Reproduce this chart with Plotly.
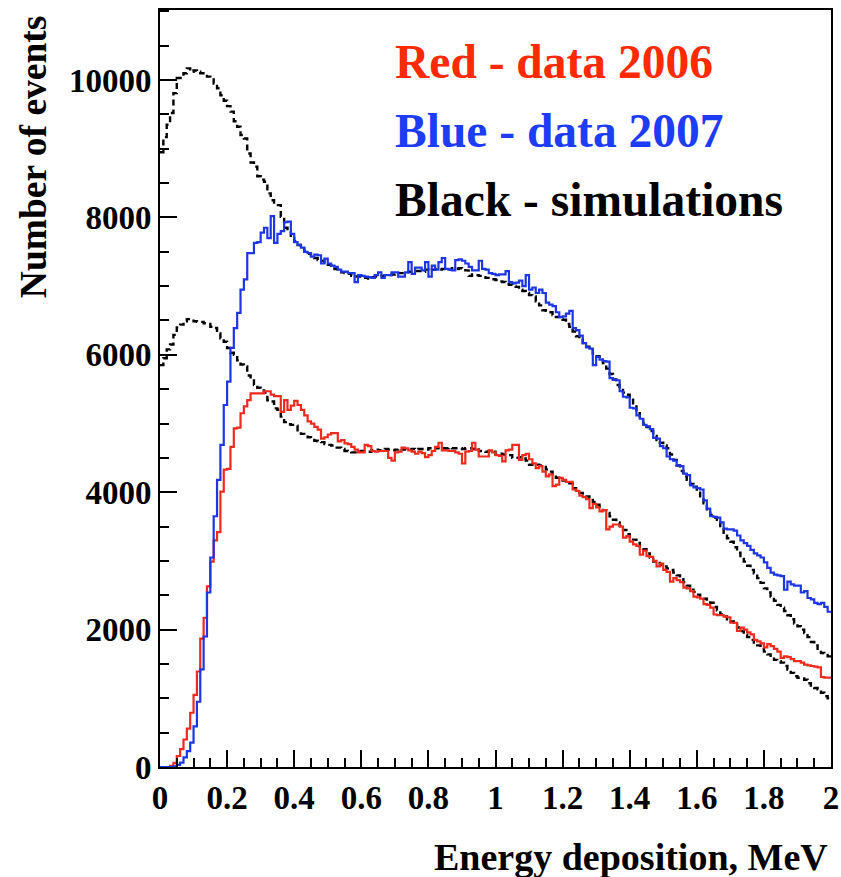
import numpy as np
import plotly.graph_objects as go

# Bin lower edges: 200 bins of 0.01 MeV from 0 to 2 MeV
bin_width = 0.01
n_bins = 200

red_2006 = [
    0, 0, 0, 15, 60, 160, 260, 400, 560, 790,
    1050, 1390, 1870, 2170, 2630, 2990, 3300, 3420, 4010, 4330,
    4340, 4660, 4930, 4940, 5150, 5250, 5340, 5440, 5440, 5440,
    5440, 5470, 5470, 5420, 5400, 5400, 5170, 5340, 5200, 5260,
    5330, 5270, 5200, 5120, 5030, 5000, 4950, 4910, 4780, 4800,
    4840, 4860, 4860, 4740, 4760, 4710, 4700, 4660, 4620, 4580,
    4580, 4690, 4670, 4600, 4590, 4600, 4600, 4600, 4500, 4460,
    4580, 4590, 4650, 4640, 4610, 4590, 4560, 4590, 4570, 4510,
    4540, 4600, 4660, 4720, 4610, 4610, 4600, 4600, 4580, 4560,
    4420, 4590, 4600, 4720, 4620, 4520, 4520, 4520, 4610, 4580,
    4540, 4530, 4450, 4610, 4620, 4690, 4690, 4470, 4540, 4560,
    4480, 4420, 4350, 4380, 4300, 4230, 4260, 4090, 4110, 4210,
    4180, 4150, 4150, 4040, 4020, 3950, 3930, 3900, 3770, 3830,
    3780, 3720, 3740, 3460, 3500, 3530, 3530, 3500, 3340, 3360,
    3280, 3240, 3220, 3090, 3150, 3070, 3060, 3000, 2920, 2960,
    2870, 2840, 2700, 2750, 2720, 2690, 2610, 2600, 2560, 2480,
    2470, 2450, 2370, 2360, 2320, 2220, 2210, 2210, 2190, 2180,
    2100, 2100, 1980, 2030, 2000, 1960, 1930, 1850, 1830, 1800,
    1740, 1790, 1760, 1720, 1680, 1590, 1610, 1600, 1570, 1540,
    1540, 1520, 1490, 1480, 1470, 1460, 1450, 1310, 1300, 1300,
]

blue_2007 = [
    0, 0, 0, 0, 10, 30, 65, 140, 230, 355,
    590, 950, 1420, 1900, 2540, 3050, 3650, 4180, 4690, 5270,
    5610, 6100, 6390, 6610, 6950, 7100, 7480, 7480, 7630, 7640,
    7780, 7850, 7700, 8020, 7630, 7760, 7800, 7930, 7940, 7760,
    7640, 7600, 7560, 7500, 7480, 7430, 7460, 7450, 7330, 7400,
    7330, 7300, 7280, 7240, 7210, 7210, 7190, 7190, 7060, 7160,
    7150, 7140, 7130, 7120, 7160, 7200, 7120, 7160, 7160, 7200,
    7200, 7140, 7140, 7200, 7350, 7180, 7270, 7270, 7230, 7350,
    7140, 7300, 7240, 7350, 7410, 7250, 7240, 7230, 7380, 7390,
    7370, 7330, 7280, 7230, 7230, 7370, 7250, 7240, 7190, 7180,
    7160, 7170, 7170, 7220, 7060, 7040, 7050, 7080, 7000, 7160,
    6950, 6980, 6900, 6950, 6900, 6760, 6730, 6710, 6620, 6550,
    6560, 6600, 6640, 6390, 6360, 6280, 6170, 6110, 6090, 5850,
    5970, 5930, 5910, 5900, 5660, 5640, 5630, 5470, 5390, 5380,
    5230, 5220, 5120, 5070, 4980, 4960, 4920, 4790, 4780, 4670,
    4640, 4520, 4480, 4460, 4390, 4380, 4270, 4250, 4100, 4070,
    4060, 4040, 3880, 3760, 3650, 3640, 3630, 3560, 3470, 3460,
    3460, 3440, 3370, 3300, 3260, 3220, 3160, 3110, 3080, 3050,
    2980, 2900, 2830, 2800, 2790, 2780, 2580, 2700, 2660, 2640,
    2640, 2540, 2560, 2460, 2440, 2390, 2370, 2390, 2330, 2260,
]

sim_2007 = [
    8950, 9170, 9350, 9520, 9810, 10030, 10030, 10100, 10170, 10120,
    10140, 10120, 10100, 10100, 10050, 10030, 9950, 9880, 9780, 9700,
    9620, 9540, 9400, 9320, 9200, 9150, 8930, 8800, 8740, 8600,
    8550, 8520, 8350, 8250, 8180, 8180, 8010, 7850, 7800, 7700,
    7650, 7600, 7550, 7500, 7470, 7440, 7410, 7380, 7370, 7320,
    7310, 7280, 7250, 7240, 7200, 7190, 7180, 7150, 7140, 7140,
    7120, 7120, 7110, 7130, 7140, 7140, 7150, 7160, 7160, 7170,
    7180, 7190, 7190, 7200, 7210, 7210, 7220, 7220, 7210, 7240,
    7230, 7240, 7250, 7240, 7250, 7250, 7240, 7260, 7250, 7260,
    7250, 7230, 7150, 7170, 7160, 7150, 7130, 7120, 7120, 7100,
    7090, 7070, 7060, 7030, 7020, 7000, 6990, 6950, 6930, 6900,
    6870, 6850, 6780, 6720, 6650, 6640, 6620, 6580, 6550, 6520,
    6510, 6450, 6410, 6340, 6270, 6230, 6170, 6120, 6070, 6020,
    5980, 5930, 5880, 5800, 5720, 5640, 5560, 5490, 5450, 5420,
    5390, 5270, 5150, 5080, 5010, 4950, 4890, 4820, 4760, 4720,
    4680, 4640, 4550, 4470, 4390, 4310, 4230, 4180, 4120, 4080,
    4040, 3940, 3840, 3750, 3670, 3630, 3600, 3480, 3390, 3330,
    3280, 3200, 3120, 3050, 2990, 2930, 2870, 2820, 2750, 2680,
    2600, 2540, 2480, 2420, 2360, 2320, 2270, 2210, 2150, 2090,
    2050, 2000, 1950, 1890, 1820, 1770, 1720, 1660, 1630, 1610,
]

sim_2006 = [
    5850, 5950, 6080, 6150, 6290, 6400, 6440, 6490, 6520, 6520,
    6490, 6480, 6480, 6460, 6450, 6410, 6390, 6310, 6240, 6190,
    6100, 6030, 6000, 5920, 5860, 5830, 5700, 5650, 5560, 5520,
    5480, 5450, 5340, 5320, 5220, 5200, 5100, 5020, 4990, 4980,
    4970, 4880, 4850, 4830, 4800, 4760, 4750, 4740, 4730, 4700,
    4690, 4680, 4650, 4650, 4630, 4600, 4590, 4580, 4580, 4600,
    4600, 4600, 4590, 4610, 4620, 4610, 4620, 4630, 4620, 4610,
    4620, 4630, 4620, 4630, 4620, 4630, 4620, 4630, 4630, 4620,
    4640, 4650, 4640, 4650, 4640, 4640, 4650, 4640, 4640, 4640,
    4630, 4640, 4640, 4630, 4640, 4600, 4600, 4590, 4600, 4590,
    4550, 4560, 4550, 4550, 4540, 4500, 4500, 4510, 4490, 4460,
    4400, 4410, 4400, 4390, 4390, 4330, 4300, 4250, 4210, 4190,
    4170, 4150, 4130, 4060, 4010, 3990, 3960, 3940, 3920, 3860,
    3820, 3790, 3740, 3700, 3650, 3600, 3560, 3510, 3450, 3390,
    3350, 3310, 3260, 3210, 3170, 3110, 3050, 2990, 2970, 2940,
    2920, 2890, 2870, 2830, 2790, 2750, 2690, 2640, 2580, 2550,
    2510, 2480, 2450, 2420, 2390, 2330, 2280, 2220, 2190, 2150,
    2120, 2070, 2030, 1980, 1930, 1890, 1850, 1810, 1770, 1720,
    1680, 1640, 1600, 1560, 1540, 1520, 1470, 1420, 1370, 1320,
    1300, 1290, 1270, 1220, 1170, 1150, 1130, 1080, 1030, 1000,
]

x_ticks = [0, 0.2, 0.4, 0.6, 0.8, 1.0, 1.2, 1.4, 1.6, 1.8, 2.0]
x_labels = ["0", "0.2", "0.4", "0.6", "0.8", "1", "1.2", "1.4", "1.6", "1.8", "2"]
y_ticks = [0, 2000, 4000, 6000, 8000, 10000]
y_labels = ["0", "2000", "4000", "6000", "8000", "10000"]

legend_lines = ["Red - data 2006", "Blue - data 2007", "Black - simulations"]

RED_LINE = "#ee2a1c"
BLUE_LINE = "#1c36e4"
RED_TEXT = "#ff2a00"
BLUE_TEXT = "#1d3cf5"
FONT = "Liberation Serif"

edges = np.arange(n_bins + 1) * bin_width


def step_xy(vals):
    vals = list(vals)
    return edges, vals + [vals[-1]]


fig = go.Figure()
for vals, color, dash, w in [
    (sim_2007, "black", "6px,4px", 2.4),
    (sim_2006, "black", "6px,4px", 2.4),
    (red_2006, RED_LINE, "solid", 2.2),
    (blue_2007, BLUE_LINE, "solid", 2.2),
]:
    xs, ys = step_xy(vals)
    fig.add_trace(go.Scatter(
        x=xs, y=ys, mode="lines", line_shape="hv",
        line=dict(color=color, width=w, dash=dash),
        showlegend=False, hoverinfo="skip",
    ))

axis_common = dict(
    showline=True, linewidth=2, linecolor="black", mirror=True,
    ticks="inside", ticklen=17, tickwidth=2, tickcolor="black",
    showgrid=False, zeroline=False, automargin=False,
    tickfont=dict(family=FONT, size=33, color="black", weight="bold"),
)

fig.update_xaxes(
    range=[0, 2], tickmode="array", tickvals=x_ticks, ticktext=x_labels,
    minor=dict(ticks="inside", ticklen=9, tickwidth=2, tickcolor="black", dtick=0.05, tick0=0, showgrid=False),
    **axis_common,
)
fig.update_yaxes(
    range=[0, 11020], tickmode="array", tickvals=y_ticks, ticktext=y_labels,
    minor=dict(ticks="inside", ticklen=9, tickwidth=2, tickcolor="black", dtick=500, tick0=0, showgrid=False),
    **axis_common,
)

annotations = []
legend_colors = [RED_TEXT, BLUE_TEXT, "black"]
legend_y = [0.9307, 0.8403, 0.7485]
for text, col, yy in zip(legend_lines, legend_colors, legend_y):
    annotations.append(dict(
        text=text, x=0.347, y=yy, xref="paper", yref="paper",
        xanchor="left", yanchor="middle", showarrow=False,
        font=dict(family=FONT, size=47.5, color=col, weight="bold"),
    ))

annotations.append(dict(
    text="Energy deposition, MeV", x=0.998, y=-0.1195, xref="paper", yref="paper",
    xanchor="right", yanchor="middle", showarrow=False,
    font=dict(family=FONT, size=38, color="black", weight="bold"),
))
annotations.append(dict(
    text="Number of events", x=-0.1873, y=0.806, xref="paper", yref="paper",
    xanchor="center", yanchor="middle", showarrow=False, textangle=-90,
    font=dict(family=FONT, size=37.5, color="black", weight="bold"),
))

fig.update_layout(
    width=841, height=877,
    margin=dict(l=160, r=10, t=10, b=110),
    paper_bgcolor="white", plot_bgcolor="white",
    annotations=annotations,
    showlegend=False,
)

fig.write_html("out.html")
